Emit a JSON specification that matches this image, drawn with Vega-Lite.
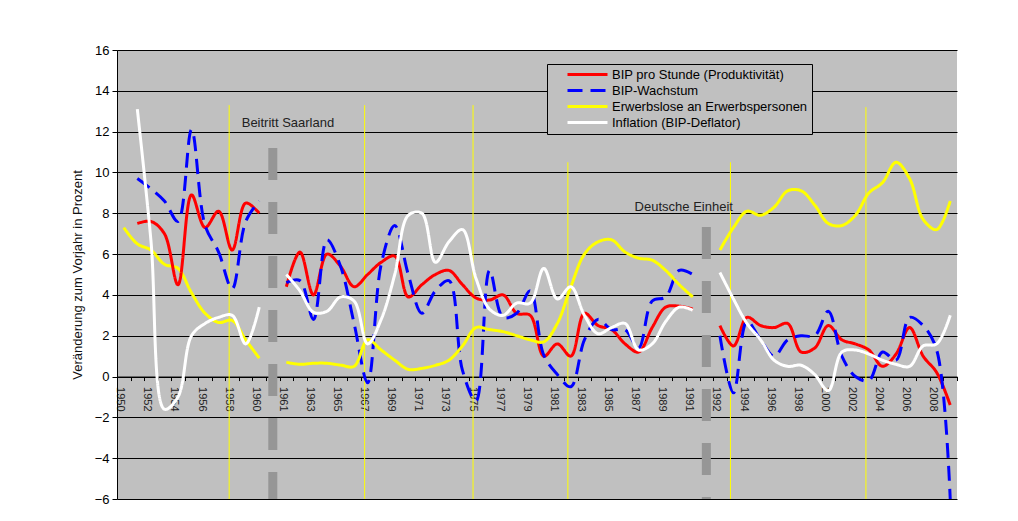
{
  "$schema": "https://vega.github.io/schema/vega-lite/v6.json",
  "width": 840,
  "height": 449,
  "autosize": "none",
  "padding": {"left": 117, "top": 50, "right": 61, "bottom": 22},
  "background": "white",
  "config": {
    "font": "Liberation Sans",
    "view": {"fill": "#C0C0C0", "stroke": null}
  },
  "datasets": {
    "reihen": [
      {"Jahr": "1950", "Abschnitt": "A", "Erwerbslose": 7.3},
      {"Jahr": "1951", "Abschnitt": "A", "Produktivitaet": 7.5, "Wachstum": 9.7, "Erwerbslose": 6.5, "Inflation": 13.1},
      {"Jahr": "1952", "Abschnitt": "A", "Produktivitaet": 7.6, "Wachstum": 9.2, "Erwerbslose": 6.2, "Inflation": 6.7},
      {"Jahr": "1953", "Abschnitt": "A", "Produktivitaet": 7.0, "Wachstum": 8.6, "Erwerbslose": 5.5, "Inflation": -1.6},
      {"Jahr": "1954", "Abschnitt": "A", "Produktivitaet": 4.5, "Wachstum": 7.6, "Erwerbslose": 5.3, "Inflation": -1.0},
      {"Jahr": "1955", "Abschnitt": "A", "Produktivitaet": 8.9, "Wachstum": 12.1, "Erwerbslose": 4.1, "Inflation": 2.0},
      {"Jahr": "1956", "Abschnitt": "A", "Produktivitaet": 7.3, "Wachstum": 7.4, "Erwerbslose": 3.1, "Inflation": 2.6},
      {"Jahr": "1957", "Abschnitt": "A", "Produktivitaet": 8.1, "Wachstum": 6.1, "Erwerbslose": 2.65, "Inflation": 2.9},
      {"Jahr": "1958", "Abschnitt": "A", "Produktivitaet": 6.2, "Wachstum": 4.3, "Erwerbslose": 2.75, "Inflation": 3.0},
      {"Jahr": "1959", "Abschnitt": "A", "Produktivitaet": 8.5, "Wachstum": 7.6, "Erwerbslose": 1.8, "Inflation": 1.6},
      {"Jahr": "1960", "Abschnitt": "A", "Produktivitaet": 8.0, "Wachstum": 8.6, "Erwerbslose": 0.9, "Inflation": 3.4},
      {"Jahr": "1961", "Abschnitt": "B", "Produktivitaet": 4.4, "Wachstum": 4.6, "Erwerbslose": 0.7, "Inflation": 5.0},
      {"Jahr": "1962", "Abschnitt": "B", "Produktivitaet": 6.1, "Wachstum": 4.7, "Erwerbslose": 0.6, "Inflation": 4.2},
      {"Jahr": "1963", "Abschnitt": "B", "Produktivitaet": 4.0, "Wachstum": 2.8, "Erwerbslose": 0.65, "Inflation": 3.15},
      {"Jahr": "1964", "Abschnitt": "B", "Produktivitaet": 6.0, "Wachstum": 6.7, "Erwerbslose": 0.65, "Inflation": 3.2},
      {"Jahr": "1965", "Abschnitt": "B", "Produktivitaet": 5.4, "Wachstum": 5.4, "Erwerbslose": 0.56, "Inflation": 3.9},
      {"Jahr": "1966", "Abschnitt": "B", "Produktivitaet": 4.4, "Wachstum": 2.6, "Erwerbslose": 0.5, "Inflation": 3.7},
      {"Jahr": "1967", "Abschnitt": "B", "Produktivitaet": 5.0, "Wachstum": -0.3, "Erwerbslose": 1.8, "Inflation": 1.6},
      {"Jahr": "1968", "Abschnitt": "B", "Produktivitaet": 5.6, "Wachstum": 5.5, "Erwerbslose": 1.3, "Inflation": 2.8},
      {"Jahr": "1969", "Abschnitt": "B", "Produktivitaet": 5.9, "Wachstum": 7.4, "Erwerbslose": 0.8, "Inflation": 5.0},
      {"Jahr": "1970", "Abschnitt": "B", "Produktivitaet": 3.9, "Wachstum": 5.0, "Erwerbslose": 0.35, "Inflation": 7.9},
      {"Jahr": "1971", "Abschnitt": "B", "Produktivitaet": 4.5, "Wachstum": 3.1, "Erwerbslose": 0.4, "Inflation": 8.0},
      {"Jahr": "1972", "Abschnitt": "B", "Produktivitaet": 5.0, "Wachstum": 4.2, "Erwerbslose": 0.55, "Inflation": 5.6},
      {"Jahr": "1973", "Abschnitt": "B", "Produktivitaet": 5.2, "Wachstum": 4.7, "Erwerbslose": 0.8, "Inflation": 6.6},
      {"Jahr": "1974", "Abschnitt": "B", "Produktivitaet": 4.5, "Wachstum": 0.3, "Erwerbslose": 1.5, "Inflation": 7.2},
      {"Jahr": "1975", "Abschnitt": "B", "Produktivitaet": 3.85, "Wachstum": -1.2, "Erwerbslose": 2.4, "Inflation": 4.8},
      {"Jahr": "1976", "Abschnitt": "B", "Produktivitaet": 3.75, "Wachstum": 5.2, "Erwerbslose": 2.3, "Inflation": 3.3},
      {"Jahr": "1977", "Abschnitt": "B", "Produktivitaet": 4.0, "Wachstum": 2.9, "Erwerbslose": 2.2, "Inflation": 3.0},
      {"Jahr": "1978", "Abschnitt": "B", "Produktivitaet": 3.1, "Wachstum": 3.1, "Erwerbslose": 2.0, "Inflation": 3.6},
      {"Jahr": "1979", "Abschnitt": "B", "Produktivitaet": 3.0, "Wachstum": 4.2, "Erwerbslose": 1.8, "Inflation": 3.6},
      {"Jahr": "1980", "Abschnitt": "B", "Produktivitaet": 1.0, "Wachstum": 1.05, "Erwerbslose": 1.7, "Inflation": 5.3},
      {"Jahr": "1981", "Abschnitt": "B", "Produktivitaet": 1.6, "Wachstum": 0.1, "Erwerbslose": 2.6, "Inflation": 3.8},
      {"Jahr": "1982", "Abschnitt": "B", "Produktivitaet": 1.0, "Wachstum": -0.5, "Erwerbslose": 4.4, "Inflation": 4.4},
      {"Jahr": "1983", "Abschnitt": "B", "Produktivitaet": 3.1, "Wachstum": 1.8, "Erwerbslose": 6.0, "Inflation": 3.0},
      {"Jahr": "1984", "Abschnitt": "B", "Produktivitaet": 2.5, "Wachstum": 2.8, "Erwerbslose": 6.6, "Inflation": 2.1},
      {"Jahr": "1985", "Abschnitt": "B", "Produktivitaet": 2.3, "Wachstum": 2.3, "Erwerbslose": 6.7, "Inflation": 2.4},
      {"Jahr": "1986", "Abschnitt": "B", "Produktivitaet": 1.6, "Wachstum": 2.3, "Erwerbslose": 6.1, "Inflation": 2.6},
      {"Jahr": "1987", "Abschnitt": "B", "Produktivitaet": 1.2, "Wachstum": 1.4, "Erwerbslose": 5.8, "Inflation": 1.3},
      {"Jahr": "1988", "Abschnitt": "B", "Produktivitaet": 2.4, "Wachstum": 3.7, "Erwerbslose": 5.7, "Inflation": 1.6},
      {"Jahr": "1989", "Abschnitt": "B", "Produktivitaet": 3.4, "Wachstum": 3.9, "Erwerbslose": 5.2, "Inflation": 2.7},
      {"Jahr": "1990", "Abschnitt": "B", "Produktivitaet": 3.45, "Wachstum": 5.2, "Erwerbslose": 4.5, "Inflation": 3.4},
      {"Jahr": "1991", "Abschnitt": "B", "Produktivitaet": 3.3, "Wachstum": 5.0, "Erwerbslose": 3.9, "Inflation": 3.25},
      {"Jahr": "1992", "Abschnitt": "C", "Produktivitaet": 2.5, "Wachstum": 2.0, "Erwerbslose": 6.2, "Inflation": 5.1},
      {"Jahr": "1993", "Abschnitt": "C", "Produktivitaet": 1.5, "Wachstum": -0.8, "Erwerbslose": 7.3, "Inflation": 3.8},
      {"Jahr": "1994", "Abschnitt": "C", "Produktivitaet": 2.9, "Wachstum": 2.7, "Erwerbslose": 8.1, "Inflation": 2.6},
      {"Jahr": "1995", "Abschnitt": "C", "Produktivitaet": 2.5, "Wachstum": 1.8, "Erwerbslose": 7.9, "Inflation": 1.8},
      {"Jahr": "1996", "Abschnitt": "C", "Produktivitaet": 2.4, "Wachstum": 1.0, "Erwerbslose": 8.3, "Inflation": 0.8},
      {"Jahr": "1997", "Abschnitt": "C", "Produktivitaet": 2.6, "Wachstum": 1.8, "Erwerbslose": 9.1, "Inflation": 0.5},
      {"Jahr": "1998", "Abschnitt": "C", "Produktivitaet": 1.2, "Wachstum": 2.0, "Erwerbslose": 9.1, "Inflation": 0.55},
      {"Jahr": "1999", "Abschnitt": "C", "Produktivitaet": 1.4, "Wachstum": 2.0, "Erwerbslose": 8.4, "Inflation": 0.1},
      {"Jahr": "2000", "Abschnitt": "C", "Produktivitaet": 2.5, "Wachstum": 3.2, "Erwerbslose": 7.5, "Inflation": -0.7},
      {"Jahr": "2001", "Abschnitt": "C", "Produktivitaet": 1.8, "Wachstum": 1.0, "Erwerbslose": 7.4, "Inflation": 1.2},
      {"Jahr": "2002", "Abschnitt": "C", "Produktivitaet": 1.6, "Wachstum": 0.0, "Erwerbslose": 7.9, "Inflation": 1.3},
      {"Jahr": "2003", "Abschnitt": "C", "Produktivitaet": 1.3, "Wachstum": -0.2, "Erwerbslose": 9.0, "Inflation": 1.1},
      {"Jahr": "2004", "Abschnitt": "C", "Produktivitaet": 0.5, "Wachstum": 1.2, "Erwerbslose": 9.5, "Inflation": 0.8},
      {"Jahr": "2005", "Abschnitt": "C", "Produktivitaet": 1.1, "Wachstum": 0.8, "Erwerbslose": 10.5, "Inflation": 0.6},
      {"Jahr": "2006", "Abschnitt": "C", "Produktivitaet": 2.4, "Wachstum": 2.9, "Erwerbslose": 9.7, "Inflation": 0.5},
      {"Jahr": "2007", "Abschnitt": "C", "Produktivitaet": 1.0, "Wachstum": 2.5, "Erwerbslose": 7.7, "Inflation": 1.5},
      {"Jahr": "2008", "Abschnitt": "C", "Produktivitaet": 0.2, "Wachstum": 1.3, "Erwerbslose": 7.2, "Inflation": 1.6},
      {"Jahr": "2009", "Abschnitt": "C", "Produktivitaet": -1.4, "Wachstum": -6.0, "Erwerbslose": 8.6, "Inflation": 3.0}
    ],
    "konjunktur": [
      {"Jahr": "1958", "Wert": 13.3},
      {"Jahr": "1967", "Wert": 13.3},
      {"Jahr": "1975", "Wert": 13.3},
      {"Jahr": "1982", "Wert": 10.5},
      {"Jahr": "1993", "Wert": 10.5},
      {"Jahr": "2003", "Wert": 13.2}
    ],
    "brueche": [
      {"Jahr": "1960/61", "Wert": 11.2},
      {"Jahr": "1991/92", "Wert": 7.33}
    ],
    "texte": [
      {"Jahr": "1959", "Wert": 12.44, "Text": "Beitritt Saarland"},
      {"Jahr": "1987", "Wert": 8.3, "Text": "Deutsche Einheit"}
    ]
  },
  "encoding": {
    "x": {
      "field": "Jahr",
      "type": "ordinal",
      "scale": {
        "type": "band",
        "paddingInner": 0,
        "paddingOuter": 0,
        "domain": ["1950","1951","1952","1953","1954","1955","1956","1957","1958","1959","1960","1960/61","1961","1962","1963","1964","1965","1966","1967","1968","1969","1970","1971","1972","1973","1974","1975","1976","1977","1978","1979","1980","1981","1982","1983","1984","1985","1986","1987","1988","1989","1990","1991","1991/92","1992","1993","1994","1995","1996","1997","1998","1999","2000","2001","2002","2003","2004","2005","2006","2007","2008","2009"]
      },
      "axis": {
        "orient": "bottom",
        "offset": -122.45,
        "title": null,
        "grid": false,
        "tickBand": "extent",
        "tickSize": 4,
        "tickColor": "black",
        "domainColor": "black",
        "domainWidth": 1,
        "labelAngle": 90,
        "labelFontSize": 11,
        "labelColor": "#222222",
        "labelPadding": 6,
        "labelOffset": -4,
        "labelBound": false,
        "labelOverlap": false,
        "labelExpr": "indexof(['1950','1952','1954','1956','1958','1960','1961','1963','1965','1967','1969','1971','1973','1975','1977','1979','1981','1983','1985','1987','1989','1991','1992','1994','1996','1998','2000','2002','2004','2006','2008'], datum.value) >= 0 ? datum.value : ''"
      }
    },
    "y": {
      "field": "Wert",
      "type": "quantitative",
      "scale": {"domain": [-6, 16], "nice": false, "zero": false},
      "axis": {
        "values": [-6, -4, -2, 0, 2, 4, 6, 8, 10, 12, 14, 16],
        "title": "Veränderung zum Vorjahr in Prozent",
        "titleFontSize": 13,
        "titleFontWeight": "normal",
        "titleColor": "#111111",
        "titlePadding": 10,
        "grid": true,
        "gridColor": "black",
        "gridOpacity": 1,
        "gridWidth": 1,
        "domainColor": "black",
        "tickColor": "black",
        "tickSize": 5,
        "labelFontSize": 13,
        "labelColor": "black",
        "labelPadding": 3
      }
    }
  },
  "layer": [
    {
      "data": {"name": "konjunktur"},
      "mark": {"type": "rule", "color": "#FFFF00", "strokeWidth": 1, "xOffset": -3},
      "encoding": {
        "y2": {"datum": -6}
      }
    },
    {
      "data": {"name": "brueche"},
      "mark": {"type": "rule", "color": "#969696", "strokeWidth": 9, "strokeDash": [32, 22], "strokeCap": "butt"},
      "encoding": {
        "y2": {"datum": -6}
      }
    },
    {
      "data": {"name": "reihen"},
      "transform": [
        {"fold": ["Produktivitaet", "Wachstum", "Erwerbslose", "Inflation"], "as": ["Reihe", "Wert"]},
        {"filter": "isValid(datum.Wert)"}
      ],
      "mark": {"type": "line", "strokeWidth": 3, "interpolate": "catmull-rom", "clip": true, "strokeCap": "butt"},
      "encoding": {
        "color": {
          "field": "Reihe",
          "type": "nominal",
          "scale": {"domain": ["Produktivitaet", "Wachstum", "Erwerbslose", "Inflation"], "range": ["#FF0000", "#0000FF", "#FFFF00", "#FFFFFF"]},
          "legend": {
            "orient": "none",
            "legendX": 430,
            "legendY": 14,
            "title": null,
            "fillColor": "#C0C0C0",
            "strokeColor": "black",
            "padding": 4,
            "symbolType": "stroke",
            "symbolSize": 1600,
            "symbolStrokeWidth": 3,
            "symbolOffset": 15,
            "labelOffset": 3,
            "labelFontSize": 13,
            "labelColor": "black",
            "labelLimit": 300,
            "clipHeight": 13,
            "rowPadding": 2,
            "labelExpr": "datum.label == 'Produktivitaet' ? 'BIP pro Stunde (Produktivität)' : datum.label == 'Wachstum' ? 'BIP-Wachstum' : datum.label == 'Erwerbslose' ? 'Erwerbslose an Erwerbspersonen' : 'Inflation (BIP-Deflator)'"
          }
        },
        "strokeDash": {
          "field": "Reihe",
          "type": "nominal",
          "scale": {"domain": ["Produktivitaet", "Wachstum", "Erwerbslose", "Inflation"], "range": [[1, 0], [15, 8], [1, 0], [1, 0]]},
          "legend": {
            "orient": "none",
            "legendX": 430,
            "legendY": 14,
            "title": null
          }
        },
        "detail": {"field": "Abschnitt", "type": "nominal"}
      }
    },
    {
      "data": {"name": "texte"},
      "mark": {"type": "text", "align": "left", "baseline": "middle", "fontSize": 13, "color": "#222222", "dx": -4},
      "encoding": {
        "text": {"field": "Text", "type": "nominal"}
      }
    }
  ]
}
